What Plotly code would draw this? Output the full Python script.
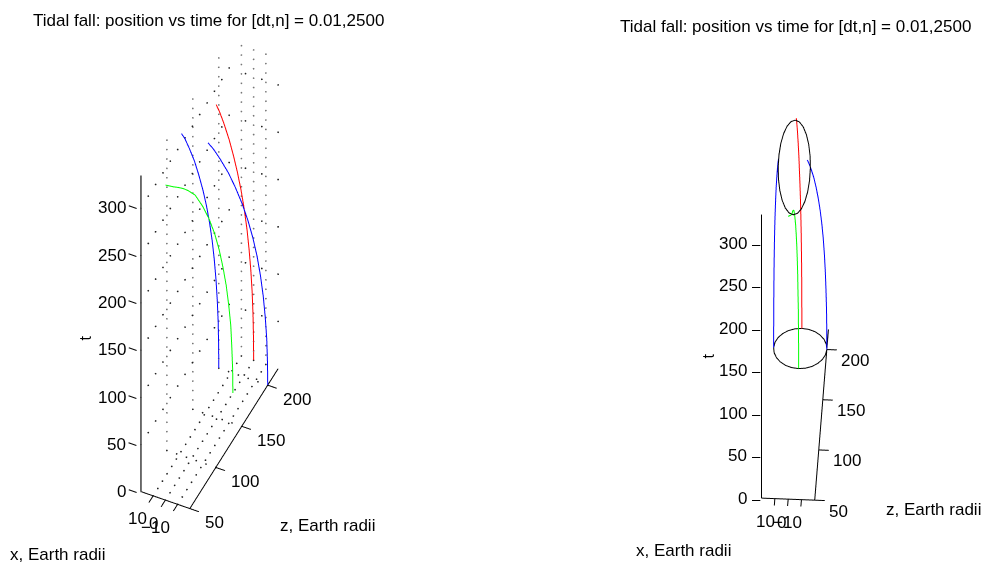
import numpy as np
import plotly.graph_objects as go

title_text = "Tidal fall: position vs time for [dt,n] = 0.01,2500"
t_main = [0,25,50,75,100,125,150,175,200,225,250,275,300,320,334]
red_z = [220,219.7,218.8,217.1,214.6,211.2,207.1,202,196,189,181,172.4,162.5,154,147]
red_x = [0,0,0,0,0,0,0,0,0,0,-0.1,-0.1,-0.2,-0.2,-0.3]
blue_z = [200,199.6,198.5,196.2,193,188.7,183.4,176.8,169,160,149.8,138.7,125.9,115,106]
blue_a_x = [20,19.96,19.85,19.6,19.3,18.87,18.34,17.68,16.9,16,15,13.87,12.6,11.5,10.6]
blue_b_x = [-20,-19.96,-19.85,-19.6,-19.3,-18.87,-18.34,-17.68,-16.9,-16,-15,-13.87,-12.6,-11.5,-11]
t_green = [0,25,50,75,100,125,150,175,200,225,250,275,292,303,313,323,333]
green_z = [180,179.6,178,176,172,167,160.5,153,144,133,120,105,91,81,71,60.5,50]
green_x = [0,0,0,0,0,-0.1,-0.2,-0.3,-0.4,-0.6,-0.8,-1,-1.3,-1.6,-1.9,-2.2,0]
ring_x = [20,19.3,17.3,14.1,10,5.2,0,-5.2,-10,-14.1,-17.3,-19.3,-20,-19.3,-17.3,-14.1,-10,-5.2,0,5.2,10,14.1,17.3,19.3,20]
ring_z = [200,205.2,210,214.1,217.3,219.3,220,219.3,217.3,214.1,210,205.2,200,194.8,190,185.9,182.7,180.7,180,180.7,182.7,185.9,190,194.8,200]
ell_x = [10.4,10.53,9.83,8.33,6.17,3.46,0.4,-2.8,-5.93,-8.77,-11.13,-12.85,-13.8,-13.93,-13.23,-11.73,-9.57,-6.86,-3.8,-0.6,2.53,5.37,7.73,9.45,10.4]
ell_z = [98,110.2,121.5,131.2,138.7,143.4,145,143.4,138.7,131.2,121.5,110.2,98,85.8,74.5,64.8,57.3,52.6,51,52.6,57.3,64.8,74.5,85.8,98]
t_ticks = [0,50,100,150,200,250,300]
z_ticks = [50,100,150,200]
x_ticks = [-10,0,10]
X_R = [-20,20]; Z_R = [50,220]; T_R = [0,334]

fig = go.Figure()

def curves(scene):
    for xs, zs, ts, col in [(blue_a_x, blue_z, t_main, "#0000ff"),
                            (blue_b_x, blue_z, t_main, "#0000ff"),
                            (red_x, red_z, t_main, "#ff0000"),
                            (green_x, green_z, t_green, "#00ff00")]:
        fig.add_trace(go.Scatter3d(x=zs, y=xs, z=ts, mode="lines", line=dict(color=col, width=2),
                                   scene=scene, showlegend=False, hoverinfo="skip"))

# dotted grid of the left box, drawn first so the curves sit above it
def dots(store, p0, p1, step):
    p0, p1 = np.array(p0, float), np.array(p1, float)
    n = max(2, int(np.linalg.norm((p1-p0)*[0.97, 1.3, 0.94]) / step))
    for s in np.linspace(0, 1, n):
        q = p0 + (p1-p0)*s
        store[0].append(q[0]); store[1].append(q[1]); store[2].append(q[2])
T_TOP = 328
vert = ([], [], [])
flat = ([], [], [])
for xv in x_ticks:
    dots(flat, (Z_R[0], xv, 0), (Z_R[1], xv, 0), 8)
    dots(vert, (Z_R[1], xv, 0), (Z_R[1], xv, T_TOP), 9)
for zv in z_ticks[1:]:
    dots(flat, (zv, X_R[0], 0), (zv, X_R[1], 0), 8)
    dots(vert, (zv, X_R[1], 0), (zv, X_R[1], T_TOP), 9)
for tv in t_ticks[1:]:
    dots(flat, (Z_R[0], X_R[1], tv), (Z_R[1], X_R[1], tv), 12)
    dots(flat, (Z_R[1], X_R[1], tv), (Z_R[1], X_R[0], tv), 12)
for store, col in [(vert, "#777777"), (flat, "#222222")]:
    fig.add_trace(go.Scatter3d(x=store[0], y=store[1], z=store[2], mode="markers",
                               marker=dict(size=1, color=col, line=dict(width=0)),
                               scene="scene", showlegend=False, hoverinfo="skip"))

curves("scene")
curves("scene2")
fig.add_trace(go.Scatter3d(x=ring_z, y=ring_x, z=[0]*len(ring_x), mode="lines",
                           line=dict(color="black", width=2), scene="scene2", showlegend=False))
fig.add_trace(go.Scatter3d(x=ell_z, y=ell_x, z=[334]*len(ell_x), mode="lines",
                           line=dict(color="black", width=2), scene="scene2", showlegend=False))

def ax(rng, ticks, color="black", width=2, ticks_on="outside"):
    return dict(range=rng, tickvals=ticks, showticklabels=False, showgrid=False, zeroline=False,
                showbackground=False, showline=True, linecolor=color, linewidth=width,
                ticks=ticks_on, ticklen=10, tickcolor="black", tickwidth=2, title=dict(text=""),
                showspikes=False)

TF = dict(family="Liberation Sans", size=17, color="black")
def lab(zv, xv, tv, text, anchor, dx, dy):
    return dict(x=zv, y=xv, z=tv, text=text, showarrow=False, xanchor=anchor, yanchor="middle",
                xshift=dx, yshift=dy, font=TF)

def tmark(tv, angle, dy):
    return dict(x=Z_R[0], y=X_R[1], z=tv, text="\u2013", showarrow=False, xanchor="right", yanchor="middle",
                xshift=2, yshift=dy, textangle=angle,
                font=dict(size=15, color="black", family="Liberation Sans"))

def labs(t_dx, z_dx, z_dy, x_dx, x_dy, tick_angle, tick_dy):
    out = [lab(Z_R[0], X_R[1], v, str(v), "right", t_dx, 0) for v in t_ticks]
    out += [lab(v, X_R[0], 0, str(v), "left", z_dx, z_dy) for v in z_ticks]
    out += [lab(Z_R[0], v, 0, str(v).replace("-", "\u2212"), "center", d, x_dy) for v, d in zip(x_ticks, x_dx)]
    out += [tmark(v, tick_angle, tick_dy) for v in t_ticks]
    return out

def scene_cfg(domx, domy, asp, eye, anns, zline, cz):
    return dict(domain=dict(x=domx, y=domy),
                xaxis=ax(Z_R, z_ticks), yaxis=ax(X_R, x_ticks), zaxis=ax(T_R, t_ticks, *zline, ticks_on=""),
                aspectmode="manual", aspectratio=dict(x=asp[0], y=asp[1], z=asp[2]), annotations=anns,
                camera=dict(projection=dict(type="orthographic"), up=dict(x=0,y=0,z=1),
                            center=dict(x=0,y=0,z=cz), eye=dict(x=eye[0], y=eye[1], z=eye[2])))

D1 = 3
D2 = 3
S1 = 1.70
S2 = 1.45
fig.update_layout(
    width=988, height=565, margin=dict(l=0, r=0, t=0, b=0), paper_bgcolor="white", showlegend=False,
    font=dict(family="Liberation Sans", color="black"),
    scene=scene_cfg([0, 0.4245], [0.03, 1], (0.447*S1, 0.116*S1, 1.719), (-0.609*D1, -0.285*D1, 0.74*D1),
                    labs(-13, 13, -14, [-22, -12, -16], -23, 20, 2), ("#666666", 4), -0.01),
    scene2=scene_cfg([0.612, 0.997], [0.0372, 1], (0.628*S2, 0.135*S2, 1.441), (-0.722*D2, -0.04*D2, 0.69*D2),
                     labs(-12, 12, -11, [-14, -6, -9], -23, 0, 0), ("black", 2), 0),
)
def note(x, y, text, size=17, **kw):
    fig.add_annotation(x=x/988, y=1-y/565, xref="paper", yref="paper", text=text, showarrow=False,
                       xanchor="left", yanchor="middle", font=dict(size=size, family="Liberation Sans", color="black"), **kw)
note(31, 20, title_text)
note(618, 27, title_text)
note(8, 554, "x, Earth radii")
note(634, 550, "x, Earth radii")
note(278, 525, "z, Earth radii")
note(884, 509, "z, Earth radii")
note(74, 338, "t", size=16, textangle=-90)
note(697, 356, "t", size=16, textangle=-90)
fig.write_html("out.html", config=dict(displayModeBar=False),
               post_script="document.body.style.margin='0';document.body.style.overflow='hidden';")
